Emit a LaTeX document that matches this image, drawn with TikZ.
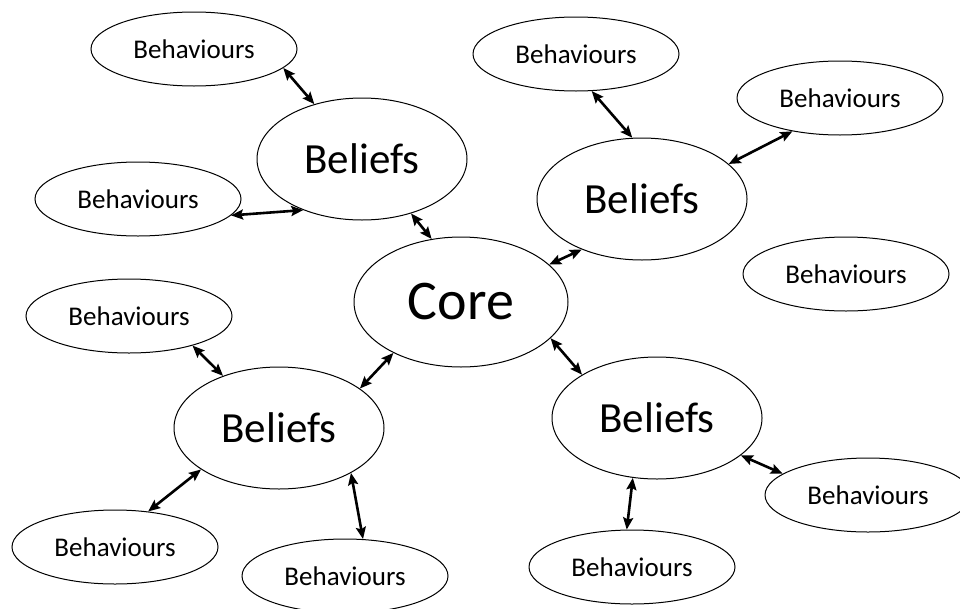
\documentclass[tikz,border=0pt]{standalone}
\usepackage{fontspec}
\setmainfont{Carlito}
\usetikzlibrary{shapes.geometric,arrows.meta}

\begin{document}
\begin{tikzpicture}[x=1pt,y=-1pt,
    bubble/.style={draw,ellipse,line width=1pt,inner sep=0pt},
    habit/.style={bubble,minimum width=206pt,minimum height=74pt,font=\fontsize{27}{30}\selectfont},
    belief/.style={bubble,minimum width=210pt,minimum height=122pt,font=\fontsize{43}{48}\selectfont},
    link/.style={{Stealth[length=12pt,width=10pt,inset=2pt]}-{Stealth[length=12pt,width=10pt,inset=2pt]},line width=2.6pt}]
    \useasboundingbox (0,0) rectangle (960,608);
    \node[bubble,minimum width=214pt,minimum height=130pt,font=\fontsize{56}{62}\selectfont] (core) at (461,302) {Core};

    \node[belief] (tl) at (362,159) {Beliefs};
    \node[belief] (tr) at (642,199) {Beliefs};
    \node[belief] (bl) at (279,428) {Beliefs};
    \node[belief] (br) at (657,418) {Beliefs};

    \node[habit] (h1) at (194,49) {Behaviours};
    \node[habit] (h2) at (138,199) {Behaviours};
    \node[habit] (h3) at (576,54) {Behaviours};
    \node[habit] (h4) at (840,98) {Behaviours};
    \node[habit] (h5) at (846,274) {Behaviours};
    \node[habit] (h6) at (129,316) {Behaviours};
    \node[habit] (h7) at (115,547) {Behaviours};
    \node[habit] (h8) at (345,576) {Behaviours};
    \node[habit] (h9) at (632,567) {Behaviours};
    \node[habit] (h10) at (868,495) {Behaviours};

    % core to the four beliefs
    \draw[link] (tl.-48) -- (core.115);
    \draw[link] (tr.220) -- (core.23);
    \draw[link] (core.217) -- (bl.26);
    \draw[link] (core.-22) -- (br.150);

    % beliefs to behaviours
    \draw[link] (h1.-12) -- (tl.131);
    \draw[link] (h2.-10) -- (tl.221);
    \draw[link] (h3.-67) -- (tr.99);
    \draw[link] (h4.215) -- (tr.22);
    \draw[link] (h6.-25) -- (bl.137);
    \draw[link] (bl.208) -- (h7.47);
    \draw[link] (bl.-32) -- (h8.64);
    \draw[link] (br.-24) -- (h10.166);
    \draw[link] (br.248) -- (h9.98);
\end{tikzpicture}
\end{document}
